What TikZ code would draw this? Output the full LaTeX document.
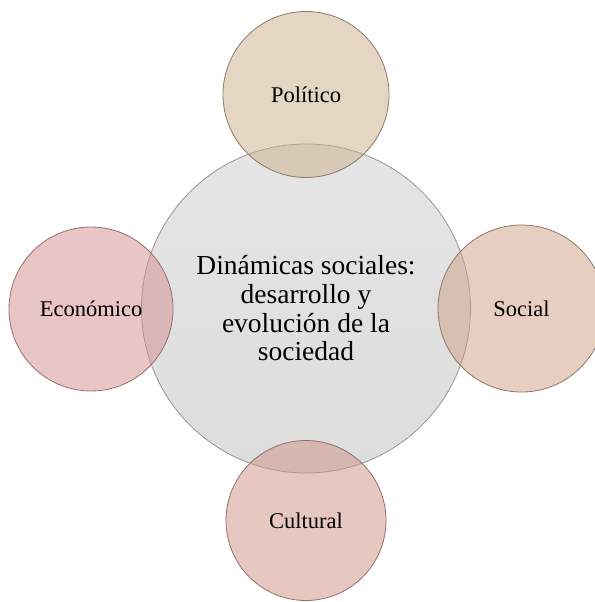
\documentclass[tikz,border=0pt]{standalone}
\usepackage{fontspec}
\setmainfont{Liberation Serif}
\definecolor{cgrayT}{RGB}{229,229,229}
\definecolor{cgrayB}{RGB}{221,221,221}
\definecolor{cgrayD}{RGB}{150,150,150}
\definecolor{polF}{RGB}{205,176,140}
\definecolor{polD}{RGB}{140,122,100}
\definecolor{ecoF}{RGB}{213,143,143}
\definecolor{ecoD}{RGB}{150,110,110}
\definecolor{socF}{RGB}{207,161,136}
\definecolor{socD}{RGB}{145,118,104}
\definecolor{culF}{RGB}{209,149,136}
\definecolor{culD}{RGB}{148,112,104}
\tikzset{
  hub/.style={circle, inner sep=0pt, minimum size=329bp, draw=cgrayD, line width=0.8bp,
    top color=cgrayT, bottom color=cgrayB, align=center,
    font=\fontsize{27.5bp}{28.7bp}\selectfont},
  sat/.style={circle, inner sep=0pt, line width=0.8bp, fill opacity=0.52, text opacity=1,
    font=\fontsize{22.5bp}{26bp}\selectfont}
}
\begin{document}
\begin{tikzpicture}[x=1bp,y=-1bp]
\useasboundingbox (0,0) rectangle (595,602);
\clip (0,0) rectangle (595,602);
\node[hub] (hub) at (306,308.5) {Dinámicas sociales:\\desarrollo y\\evolución de la\\sociedad};
\node[sat, minimum size=166bp, fill=polF, draw=polD] (pol) at (306,94.5) {Político};
\node[sat, minimum size=164bp, fill=ecoF, draw=ecoD] (eco) at (91,309) {Económico};
\node[sat, minimum size=167bp, fill=socF, draw=socD] (soc) at (521.5,308.5) {Social};
\node[sat, minimum size=160bp, fill=culF, draw=culD] (cul) at (306,520.5) {Cultural};
\end{tikzpicture}
\end{document}
